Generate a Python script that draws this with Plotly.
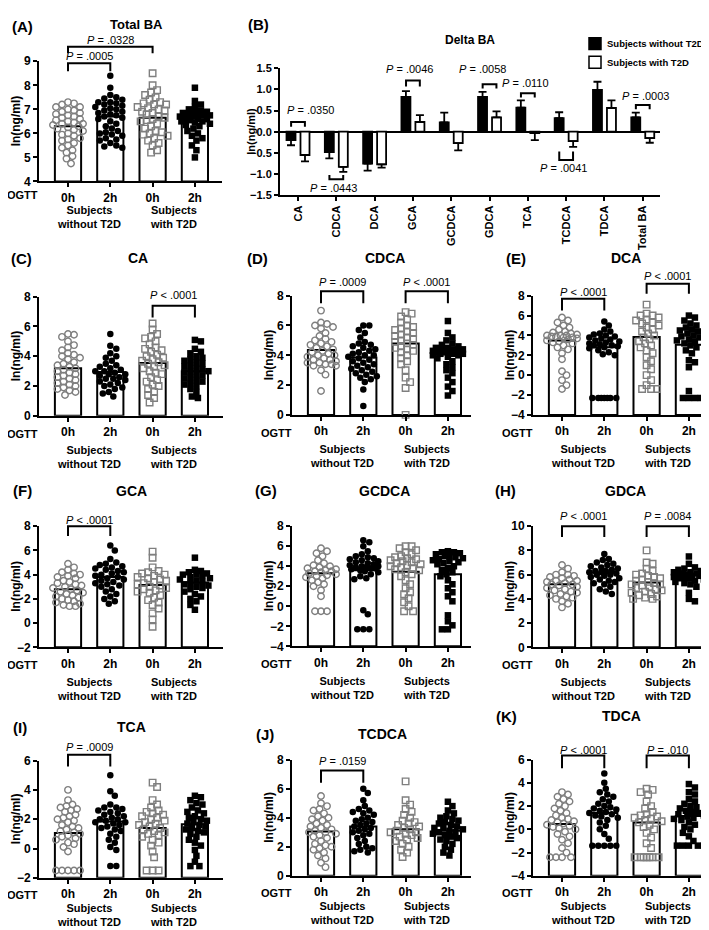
import plotly.graph_objects as go

W, H = 709, 930
FONT = 'Liberation Sans, Arial, sans-serif'
GRAY = '#7f7f7f'

tick_text = ['0h', '2h', '0h', '2h']

# ---- (A) Total BA: 0h / 2h without T2D, 0h / 2h with T2D ----
tba_vals = [
    [7.3, 7.25, 7.2, 7.1, 7.1, 7.0, 6.95, 6.9, 6.85, 6.8, 6.75, 6.7, 6.65, 6.6, 6.55, 6.5, 6.45, 6.4, 6.4, 6.35,
     6.3, 6.25, 6.2, 6.15, 6.1, 6.0, 5.95, 5.9, 5.8, 5.75, 5.7, 5.6, 5.5, 5.4, 5.3, 5.2, 5.05, 4.95, 4.75],
    [8.4, 7.9, 7.6, 7.5, 7.45, 7.4, 7.3, 7.3, 7.25, 7.2, 7.15, 7.1, 7.05, 7.0, 6.95, 6.9, 6.85, 6.8, 6.75, 6.7,
     6.65, 6.6, 6.5, 6.4, 6.3, 6.2, 6.1, 6.05, 6.0, 5.95, 5.9, 5.8, 5.75, 5.7, 5.6, 5.5, 5.45, 5.4],
    [8.5, 8.0, 7.8, 7.7, 7.6, 7.5, 7.4, 7.3, 7.25, 7.2, 7.2, 7.1, 7.05, 7.0, 6.95, 6.9, 6.85, 6.8, 6.7, 6.65,
     6.6, 6.55, 6.5, 6.4, 6.3, 6.2, 6.1, 6.05, 6.0, 5.95, 5.9, 5.8, 5.7, 5.6, 5.5, 5.3, 5.2],
    [7.9, 7.35, 7.2, 7.1, 7.0, 6.95, 6.9, 6.85, 6.85, 6.8, 6.8, 6.75, 6.75, 6.7, 6.7, 6.65, 6.6, 6.6, 6.55, 6.5,
     6.5, 6.45, 6.4, 6.35, 6.3, 6.2, 6.1, 6.0, 5.9, 5.8, 5.7, 5.5, 5.3, 5.0],
]
tba_means = [6.3, 6.7, 6.65, 6.5]

# ---- (B) Delta BA ----
delta_cats = ['CA', 'CDCA', 'DCA', 'GCA', 'GCDCA', 'GDCA', 'TCA', 'TCDCA', 'TDCA', 'Total BA']
delta_without = [-0.20, -0.48, -0.75, 0.82, 0.22, 0.82, 0.57, 0.32, 0.99, 0.34]
delta_without_sem = [0.12, 0.15, 0.17, 0.14, 0.23, 0.12, 0.17, 0.14, 0.19, 0.11]
delta_with = [-0.55, -0.83, -0.77, 0.23, -0.27, 0.34, -0.03, -0.22, 0.56, -0.15]
delta_with_sem = [0.15, 0.12, 0.08, 0.16, 0.17, 0.14, 0.17, 0.14, 0.18, 0.11]

# ---- (C) CA ----
ca_vals = [
    [5.5, 5.45, 5.3, 5.0, 4.75, 4.6, 4.4, 4.2, 4.1, 4.0, 3.9, 3.8, 3.6, 3.5, 3.4, 3.3, 3.2, 3.1, 3.0, 2.9,
     2.8, 2.7, 2.6, 2.5, 2.4, 2.3, 2.2, 2.1, 2.0, 1.9, 1.8, 1.7, 1.6, 1.4],
    [5.5, 4.7, 4.5, 4.2, 4.0, 3.9, 3.7, 3.5, 3.4, 3.3, 3.2, 3.1, 3.0, 3.0, 2.9, 2.8, 2.8, 2.7, 2.6, 2.5,
     2.5, 2.4, 2.3, 2.2, 2.1, 2.0, 1.9, 1.8, 1.6, 1.5, 1.3],
    [6.2, 5.8, 5.5, 5.3, 5.2, 5.0, 4.8, 4.6, 4.5, 4.4, 4.3, 4.1, 4.0, 3.9, 3.8, 3.7, 3.6, 3.5, 3.4, 3.3,
     3.2, 3.0, 2.9, 2.8, 2.6, 2.4, 2.3, 2.1, 2.0, 1.8, 1.6, 1.4, 1.2, 0.9],
    [5.1, 5.0, 4.5, 4.3, 4.2, 4.0, 3.9, 3.8, 3.7, 3.6, 3.5, 3.4, 3.3, 3.2, 3.1, 3.0, 3.0, 2.9, 2.8, 2.7,
     2.6, 2.5, 2.4, 2.3, 2.2, 2.1, 2.0, 1.8, 1.6, 1.3, 1.2],
]
ca_means = [3.2, 2.95, 3.55, 3.0]

# ---- (D) CDCA ----
cdca_vals = [
    [7.0, 6.2, 6.1, 6.0, 5.9, 5.8, 5.5, 5.3, 5.1, 5.0, 4.9, 4.8, 4.7, 4.6, 4.5, 4.4, 4.3, 4.2, 4.1, 4.0,
     4.0, 3.9, 3.8, 3.7, 3.7, 3.6, 3.5, 3.5, 3.4, 3.4, 3.3, 3.3, 3.0, 2.7, 1.6],
    [6.0, 6.0, 5.7, 5.5, 5.2, 4.9, 4.8, 4.7, 4.6, 4.5, 4.4, 4.3, 4.2, 4.1, 4.0, 4.0, 3.9, 3.8, 3.7, 3.6,
     3.5, 3.4, 3.3, 3.2, 3.1, 3.0, 2.9, 2.8, 2.7, 2.6, 2.5, 2.4, 2.2, 1.7, 0.6],
    [6.9, 6.8, 6.6, 6.4, 6.2, 6.0, 5.9, 5.8, 5.7, 5.6, 5.5, 5.4, 5.3, 5.2, 5.1, 5.0, 4.9, 4.8, 4.7, 4.6,
     4.5, 4.4, 4.3, 4.2, 4.0, 3.8, 3.6, 3.4, 3.0, 2.5, 2.2, 1.8, 0.0],
    [6.3, 5.5, 5.2, 5.0, 4.8, 4.7, 4.6, 4.5, 4.5, 4.4, 4.4, 4.3, 4.3, 4.3, 4.2, 4.2, 4.2, 4.1, 4.1, 4.1,
     4.0, 4.0, 3.9, 3.8, 3.6, 3.4, 3.2, 3.0, 2.8, 2.5, 2.2, 1.9, 1.6, 1.3],
]
cdca_means = [4.35, 3.85, 4.8, 4.2]

# ---- (E) DCA ----
dca_vals = [
    [5.8, 5.5, 5.3, 5.0, 4.8, 4.6, 4.4, 4.3, 4.2, 4.1, 4.0, 4.0, 4.0, 3.9, 3.9, 3.8, 3.8, 3.7, 3.6, 3.5,
     3.4, 3.3, 3.2, 3.0, 2.8, 2.6, 2.2, 1.6, 0.4, 0.0, -0.5, -1.0, -1.4],
    [5.4, 5.0, 4.6, 4.4, 4.2, 4.1, 4.0, 3.9, 3.8, 3.7, 3.6, 3.5, 3.4, 3.3, 3.2, 3.1, 3.0, 3.0, 2.9, 2.8,
     2.7, 2.5, 2.3, 2.1, 2.0, -2.3, -2.3, -2.3, -2.3, -2.3, -2.3, -2.3],
    [7.1, 6.2, 6.0, 6.0, 5.8, 5.6, 5.5, 5.3, 5.2, 5.0, 4.8, 4.6, 4.4, 4.2, 4.0, 3.8, 3.6, 3.4, 3.2, 3.0,
     2.8, 2.5, 2.2, 1.8, 1.4, 1.0, 0.6, 0.0, -0.5, -1.0, -1.4, -1.4, -1.4],
    [6.0, 5.8, 5.5, 5.2, 5.0, 4.8, 4.6, 4.5, 4.4, 4.2, 4.0, 3.9, 3.8, 3.6, 3.5, 3.4, 3.2, 3.0, 2.8, 2.5,
     2.2, 1.5, 1.3, 0.8, -1.6, -2.3, -2.3, -2.3, -2.3],
]
dca_means = [3.5, 2.8, 3.85, 3.05]

# ---- (F) GCA ----
gca_vals = [
    [4.9, 4.6, 4.4, 4.2, 4.1, 4.0, 3.9, 3.8, 3.7, 3.5, 3.4, 3.3, 3.2, 3.1, 3.0, 2.9, 2.8, 2.7, 2.6, 2.5,
     2.4, 2.3, 2.2, 2.1, 2.0, 1.9, 1.8, 1.7, 1.6, 1.5, 1.4, 1.4],
    [6.4, 6.0, 5.3, 5.0, 4.9, 4.8, 4.7, 4.6, 4.5, 4.4, 4.3, 4.2, 4.1, 4.0, 3.9, 3.8, 3.7, 3.6, 3.5, 3.4,
     3.3, 3.2, 3.1, 3.0, 2.8, 2.6, 2.4, 2.2, 2.0, 1.8, 1.6],
    [5.9, 5.4, 4.6, 4.3, 4.2, 4.1, 4.0, 3.9, 3.8, 3.7, 3.6, 3.5, 3.4, 3.3, 3.2, 3.1, 3.0, 2.9, 2.8, 2.7,
     2.6, 2.5, 2.3, 2.1, 1.9, 1.7, 1.5, 1.2, 0.8, 0.3, -0.3],
    [5.4, 4.4, 4.3, 4.2, 4.1, 4.0, 4.0, 3.9, 3.8, 3.7, 3.6, 3.5, 3.4, 3.3, 3.2, 3.1, 3.0, 2.9, 2.8, 2.6,
     2.4, 2.2, 2.0, 1.8, 1.5, 1.1],
]
gca_means = [2.8, 3.8, 3.15, 3.35]

# ---- (G) GCDCA ----
gcdca_vals = [
    [5.8, 5.5, 5.3, 5.0, 4.6, 4.3, 4.1, 4.0, 3.9, 3.8, 3.7, 3.6, 3.5, 3.5, 3.4, 3.3, 3.2, 3.1, 3.0, 2.9,
     2.8, 2.6, 2.4, 2.2, 2.0, 1.6, 1.0, -0.5, -0.5, -0.5],
    [6.6, 6.4, 6.0, 5.5, 5.2, 5.0, 4.9, 4.8, 4.7, 4.6, 4.5, 4.4, 4.3, 4.2, 4.1, 4.0, 4.0, 3.9, 3.9, 3.8,
     3.8, 3.7, 3.6, 3.5, 3.4, 3.2, 3.0, 2.8, 2.7, -0.4, -0.8, -2.3, -2.3, -2.3],
    [6.0, 6.0, 5.8, 5.6, 5.4, 5.2, 5.0, 4.9, 4.8, 4.7, 4.6, 4.5, 4.4, 4.3, 4.2, 4.1, 4.0, 3.9, 3.8, 3.7,
     3.6, 3.4, 3.2, 3.0, 2.6, 2.2, 1.8, 1.4, 1.2, 0.8, 0.4, 0.0, -0.5, -0.5],
    [5.5, 5.4, 5.4, 5.3, 5.2, 5.1, 5.0, 4.9, 4.8, 4.7, 4.6, 4.5, 4.4, 4.3, 4.2, 4.0, 3.8, 3.6, 3.4, 3.2,
     3.0, 2.6, 2.2, 1.8, 1.4, 1.0, 0.5, -0.9, -1.5, -1.9, -2.3, -2.3],
]
gcdca_means = [3.3, 3.6, 3.45, 3.2]

# ---- (H) GDCA ----
gdca_vals = [
    [6.8, 6.5, 6.2, 6.0, 6.0, 5.9, 5.8, 5.7, 5.6, 5.5, 5.5, 5.4, 5.3, 5.2, 5.2, 5.1, 5.0, 4.9, 4.8, 4.7,
     4.6, 4.5, 4.4, 4.3, 4.2, 4.1, 4.0, 3.8, 3.6, 3.3],
    [7.7, 7.3, 7.2, 7.0, 6.9, 6.8, 6.7, 6.6, 6.5, 6.4, 6.3, 6.3, 6.2, 6.2, 6.1, 6.0, 6.0, 5.9, 5.8, 5.7,
     5.6, 5.5, 5.4, 5.3, 5.2, 5.0, 4.8, 4.6, 4.4],
    [8.0, 7.0, 6.9, 6.5, 6.3, 6.1, 6.0, 5.9, 5.8, 5.7, 5.6, 5.5, 5.4, 5.3, 5.2, 5.2, 5.1, 5.0, 4.9, 4.8,
     4.7, 4.6, 4.5, 4.4, 4.3, 4.2, 4.1, 4.0, 4.0],
    [7.5, 6.9, 6.6, 6.5, 6.4, 6.3, 6.2, 6.2, 6.1, 6.1, 6.0, 6.0, 6.0, 5.9, 5.9, 5.8, 5.8, 5.7, 5.7, 5.6,
     5.5, 5.4, 5.3, 5.2, 5.0, 4.5, 4.0, 3.8],
]
gdca_means = [5.2, 6.15, 5.35, 5.95]

# ---- (I) TCA ----
tca_vals = [
    [4.0, 3.3, 3.0, 2.9, 2.8, 2.7, 2.6, 2.5, 2.3, 2.2, 2.1, 2.0, 1.9, 1.8, 1.6, 1.5, 1.4, 1.3, 1.2, 1.1,
     1.0, 0.9, 0.8, 0.7, 0.6, 0.4, 0.3, 0.1, -0.2, -1.5, -1.5, -1.5, -1.5, -1.5],
    [5.0, 3.9, 3.6, 3.0, 2.8, 2.8, 2.7, 2.6, 2.5, 2.4, 2.3, 2.2, 2.1, 2.0, 2.0, 1.9, 1.8, 1.8, 1.7, 1.6,
     1.5, 1.4, 1.3, 1.2, 1.0, 0.8, 0.6, 0.4, 0.1, -0.1, -1.2, -1.2],
    [4.5, 4.2, 3.3, 3.0, 2.8, 2.6, 2.5, 2.4, 2.3, 2.2, 2.1, 2.0, 1.9, 1.8, 1.7, 1.6, 1.5, 1.4, 1.3, 1.2,
     1.1, 1.0, 0.9, 0.8, 0.6, 0.4, 0.2, -0.2, -0.6, -1.5, -1.5, -1.5],
    [3.6, 3.5, 3.3, 3.1, 3.0, 2.8, 2.6, 2.5, 2.4, 2.2, 2.1, 2.0, 1.9, 1.8, 1.7, 1.6, 1.5, 1.4, 1.3, 1.2,
     1.1, 1.0, 0.8, 0.6, 0.4, 0.2, -0.1, -0.5, -0.9, -1.2, -1.2],
]
tca_means = [1.05, 1.85, 1.4, 1.65]

# ---- (J) TCDCA ----
tcdca_vals = [
    [5.5, 5.0, 4.8, 4.6, 4.5, 4.3, 4.1, 4.0, 3.9, 3.8, 3.6, 3.5, 3.4, 3.3, 3.2, 3.1, 3.0, 3.0, 2.9, 2.8,
     2.7, 2.6, 2.4, 2.2, 2.1, 2.0, 1.9, 1.8, 1.6, 1.4, 1.2, 0.9, 0.6],
    [6.0, 5.7, 5.2, 4.8, 4.6, 4.5, 4.4, 4.3, 4.2, 4.0, 3.9, 3.8, 3.7, 3.6, 3.5, 3.4, 3.3, 3.2, 3.1, 3.0,
     2.9, 2.8, 2.6, 2.4, 2.2, 2.0, 1.9, 1.8, 1.7, 1.6],
    [6.5, 5.2, 4.9, 4.6, 4.4, 4.2, 4.0, 3.8, 3.7, 3.6, 3.5, 3.4, 3.3, 3.2, 3.1, 3.0, 3.0, 2.9, 2.8, 2.7,
     2.6, 2.5, 2.4, 2.2, 2.0, 1.8, 1.6, 1.3],
    [5.1, 4.8, 4.5, 4.3, 4.1, 4.0, 3.9, 3.8, 3.7, 3.6, 3.5, 3.4, 3.3, 3.3, 3.2, 3.1, 3.0, 3.0, 2.9, 2.8,
     2.7, 2.6, 2.5, 2.4, 2.2, 2.0, 1.8, 1.6, 1.4],
]
tcdca_means = [3.05, 3.4, 3.2, 3.1]

# ---- (K) TDCA ----
tdca_vals = [
    [3.2, 3.0, 2.8, 2.6, 2.4, 2.2, 2.0, 1.8, 1.6, 1.4, 1.2, 1.0, 0.9, 0.8, 0.7, 0.6, 0.5, 0.4, 0.3, 0.2,
     0.1, 0.0, -0.2, -0.4, -0.6, -0.9, -1.2, -1.6, -2.0, -2.4, -2.4, -2.4, -2.4],
    [4.8, 4.0, 3.5, 3.2, 3.0, 2.8, 2.6, 2.4, 2.2, 2.0, 1.9, 1.8, 1.7, 1.6, 1.5, 1.4, 1.3, 1.2, 1.1, 1.0,
     0.8, 0.6, 0.3, 0.0, -0.4, -0.8, -1.4, -1.4, -1.4, -1.4, -1.4],
    [3.5, 3.4, 3.2, 3.0, 2.4, 2.0, 1.8, 1.5, 1.3, 1.2, 1.1, 1.0, 0.9, 0.8, 0.7, 0.6, 0.4, 0.2, 0.0, -0.3,
     -0.7, -1.2, -1.6, -2.4, -2.4, -2.4, -2.4, -2.4, -2.4, -2.4],
    [3.9, 3.6, 3.2, 3.0, 2.6, 2.4, 2.2, 2.0, 1.9, 1.8, 1.6, 1.5, 1.4, 1.3, 1.2, 1.1, 1.0, 0.9, 0.8, 0.6,
     0.4, 0.2, 0.0, -0.3, -0.6, -1.0, -1.4, -1.4, -1.4, -1.4, -1.4],
]
tdca_means = [0.45, 1.4, 0.6, 1.15]

# P-value brackets: (bar from, bar to, text value, bracket top, leg end, label)
brackets = {
    'A': [(0, 2, 9.88, 9.61, 9.33, '= .0328'), (0, 1, 9.2, 8.92, 8.59, '= .0005')],
    'C': [(2, 3, 8.1, 7.4, 6.6, '< .0001')],
    'D': [(0, 1, 8.9, 8.3, 7.5, '= .0009'), (2, 3, 8.9, 8.3, 7.5, '< .0001')],
    'E': [(0, 1, 8.4, 7.7, 6.5, '< .0001'), (2, 3, 10.0, 9.2, 8.2, '< .0001')],
    'F': [(0, 1, 8.5, 8.0, 7.2, '< .0001')],
    'H': [(0, 1, 10.8, 10.0, 9.1, '< .0001'), (2, 3, 10.8, 10.0, 9.1, '= .0084')],
    'I': [(0, 1, 6.9, 6.4, 5.6, '= .0009')],
    'J': [(0, 1, 7.9, 7.25, 6.4, '= .0159')],
    'K': [(0, 1, 6.8, 6.35, 5.25, '< .0001'), (2, 3, 6.8, 6.35, 5.25, '= .010')],
}
# delta panel brackets: (category, text dx, text value, bracket y, leg y, label)
delta_brackets = [
    (0, 0.33, 0.51, 0.23, 0.12, '= .0350'),
    (1, -0.08, -1.33, -1.12, -1.02, '= .0443'),
    (3, -0.10, 1.47, 1.21, 1.07, '= .0046'),
    (5, -0.18, 1.47, 1.12, 1.02, '= .0058'),
    (6, -0.05, 1.14, 0.91, 0.81, '= .0110'),
    (7, -0.08, -0.86, -0.67, -0.47, '= .0041'),
    (9, 0.08, 0.84, 0.63, 0.53, '= .0003'),
]

# layout geometry in pixels: x0, x1, ytop, ybot, ymin, ymax, dtick
geom = {
    'A': (31, 214, 47, 169, 4, 9, 1),
    'B': (272, 652, 54, 183, -1.5, 1.5, 0.5),
    'C': (31, 215, 286, 407, 0, 8, 2),
    'D': (284, 463, 285, 406, 0, 8, 2),
    'E': (525, 708, 285, 406, -4, 8, 2),
    'F': (31, 215, 519, 642, -2, 8, 2),
    'G': (284, 463, 519, 641, -4, 8, 2),
    'H': (525, 708, 519, 642, 0, 10, 2),
    'I': (31, 215, 757, 876, -2, 6, 2),
    'J': (284, 463, 756, 874, 0, 8, 2),
    'K': (525, 708, 756, 874, -4, 6, 2),
}
# panel title text, letter (x, y), title (x, y), title size
heads = {
    'A': ('Total BA', 14, 12, 128, 10, 13), 'B': ('Delta BA', 250, 10, 462, 25, 12),
    'C': ('CA', 13, 247, 130, 247, 14), 'D': ('CDCA', 249, 247, 377, 247, 14),
    'E': ('DCA', 508, 247, 618, 247, 14), 'F': ('GCA', 14, 483, 123, 483, 14),
    'G': ('GCDCA', 258, 483, 377, 483, 14), 'H': ('GDCA', 497, 483, 617, 483, 14),
    'I': ('TCA', 12, 723, 123, 723, 14), 'J': ('TCDCA', 257, 730, 375, 730, 14),
    'K': ('TDCA', 498, 712, 613, 712, 14),
}
# offsets below the x axis for the OGTT row and the two-line group labels
row_dy = {'A': (14, 36), 'C': (18, 42), 'D': (18, 42), 'E': (18, 42),
          'F': (18, 42), 'G': (18, 42), 'H': (18, 42),
          'I': (17, 38), 'J': (17, 38), 'K': (17, 38)}

small = [
    ('A', tba_vals, tba_means), ('C', ca_vals, ca_means), ('D', cdca_vals, cdca_means),
    ('E', dca_vals, dca_means), ('F', gca_vals, gca_means), ('G', gcdca_vals, gcdca_means),
    ('H', gdca_vals, gdca_means), ('I', tca_vals, tca_means), ('J', tcdca_vals, tcdca_means),
    ('K', tdca_vals, tdca_means),
]
axis_no = {k: i + 1 for i, k in enumerate('ABCDEFGHIJK')}

BAR_DX = 42.3   # pixels between bar centres
FIRST = 29      # pixels from y axis to first bar centre
MARK = 6.5

styles = [
    dict(symbol='circle-open', color=GRAY, size=MARK, line=dict(width=1.4, color=GRAY)),
    dict(symbol='circle', color='black', size=MARK, line=dict(width=0)),
    dict(symbol='square-open', color=GRAY, size=MARK, line=dict(width=1.4, color=GRAY)),
    dict(symbol='square', color='black', size=MARK, line=dict(width=0)),
]


def px(x):
    return x / W


def py(y):
    return 1 - y / H


def val_y(g, v):
    x0, x1, yt, yb, lo, hi, dt = g
    return yb - (v - lo) / (hi - lo) * (yb - yt)


def swarm(vals, ppu, d=6.0, half=16.0, step=1.5):
    cands = [0.0]
    k = 1
    while k * step <= half:
        cands += [k * step, -k * step]
        k += 1
    placed = []
    offs = [0.0] * len(vals)
    for i in sorted(range(len(vals)), key=lambda n: -vals[n]):
        y = vals[i] * ppu
        best, best_gap = 0.0, -1.0
        for c in cands:
            gap = min([((c - a) ** 2 + (y - b) ** 2) ** 0.5 for a, b in placed], default=1e9)
            if gap >= d:
                best = c
                break
            if gap > best_gap:
                best, best_gap = c, gap
        placed.append((best, y))
        offs[i] = best
    return offs


fig = go.Figure()
layout = dict(width=W, height=H, margin=dict(l=0, r=0, t=0, b=0), showlegend=False,
              plot_bgcolor='white', paper_bgcolor='white', barmode='overlay',
              font=dict(family=FONT, color='black'))
annots = []
shapes = []
bold = dict(family=FONT, size=12, color='black', weight='bold')


def text(x, y, s, size=12, weight='bold', angle=0, xanchor='center'):
    annots.append(dict(x=px(x), y=py(y), xref='paper', yref='paper', text=s, showarrow=False,
                       xanchor=xanchor, yanchor='middle', textangle=angle,
                       font=dict(family=FONT, size=size, color='black', weight=weight)))


def line(path):
    shapes.append(dict(type='path', path=path, xref='paper', yref='paper',
                       line=dict(color='black', width=2)))


for key, vals, means in small:
    g = geom[key]
    n = axis_no[key]
    x0, x1, yt, yb, lo, hi, dt = g
    xs = '' if n == 1 else str(n)
    xr = [-FIRST / BAR_DX, (x1 - x0 - FIRST) / BAR_DX]
    layout['xaxis' + xs] = dict(domain=[px(x0), px(x1)], range=xr, anchor='y' + xs,
                                tickvals=[0, 1, 2, 3], ticktext=tick_text, tickfont=bold,
                                showline=True, linecolor='black', linewidth=2, ticks='outside',
                                ticklen=4, tickwidth=1.5, tickcolor='black', showgrid=False,
                                zeroline=False, fixedrange=True)
    layout['yaxis' + xs] = dict(domain=[py(yb), py(yt)], range=[lo, hi], anchor='x' + xs,
                                tick0=lo, dtick=dt, tickfont=bold, showline=True, linecolor='black',
                                linewidth=2, ticks='outside', ticklen=4, tickwidth=1.5,
                                tickcolor='black', showgrid=False, zeroline=False, fixedrange=True)
    fig.add_trace(go.Bar(x=[0, 1, 2, 3], y=[m - lo for m in means], base=lo, width=0.62,
                         marker=dict(color='white', line=dict(color='black', width=2)),
                         xaxis='x' + xs, yaxis='y' + xs))
    ppu = (yb - yt) / (hi - lo)
    for gi, gv in enumerate(vals):
        offs = swarm(gv, ppu)
        fig.add_trace(go.Scatter(x=[gi + o / BAR_DX for o in offs], y=gv, mode='markers',
                                 marker=styles[gi], cliponaxis=False,
                                 xaxis='x' + xs, yaxis='y' + xs))

    # brackets
    for i, j, tv, top, leg, lab in brackets.get(key, []):
        xa = x0 + FIRST + i * BAR_DX
        xb = x0 + FIRST + j * BAR_DX
        ya, yt2 = val_y(g, leg), val_y(g, top)
        line(f'M {px(xa)},{py(ya)} L {px(xa)},{py(yt2)} L {px(xb)},{py(yt2)} L {px(xb)},{py(ya)}')
        text((xa + xb) / 2, val_y(g, tv), '<i>P</i> ' + lab, size=11, weight='normal')

    # axis labels
    d1, d2 = row_dy[key]
    text(x0 - 16, yb + d1, 'OGTT', size=11)
    text(x0 + FIRST + 0.5 * BAR_DX, yb + d2, 'Subjects<br>without T2D', size=11)
    text(x0 + FIRST + 2.5 * BAR_DX, yb + d2, 'Subjects<br>with T2D', size=11)
    text(x0 - 23, (yt + yb) / 2, 'ln(ng/ml)', size=12, angle=-90)

# ---- panel B: grouped bars ----
g = geom['B']
x0, x1, yt, yb, lo, hi, dt = g
bxr = [-0.47, 9.45]
layout['xaxis2'] = dict(domain=[px(x0), px(x1)], range=bxr, anchor='y2', type='category',
                        categoryarray=delta_cats, tickangle=-90,
                        tickfont=dict(family=FONT, size=11, color='black', weight='bold'),
                        showline=True, linecolor='black', linewidth=2, ticks='outside', ticklen=4,
                        tickwidth=1.5, tickcolor='black', showgrid=False, zeroline=False,
                        fixedrange=True)
layout['yaxis2'] = dict(domain=[py(yb), py(yt)], range=[lo, hi], anchor='x2', tick0=lo, dtick=dt,
                        tickformat='.1f',
                        tickfont=dict(family=FONT, size=11, color='black', weight='bold'),
                        showline=True, linecolor='black', linewidth=2, ticks='outside', ticklen=4,
                        tickwidth=1.5, tickcolor='black', showgrid=False, zeroline=True,
                        zerolinecolor='black', zerolinewidth=2, fixedrange=True)
for vals, sems, off, fill in [(delta_without, delta_without_sem, -0.30, 'black'),
                              (delta_with, delta_with_sem, 0.065, 'white')]:
    fig.add_trace(go.Bar(
        x=delta_cats, y=vals, width=0.235, offset=off,
        marker=dict(color=fill, line=dict(color='black', width=1.8)),
        error_y=dict(type='data', symmetric=False,
                     array=[s if v > 0 else 0 for v, s in zip(vals, sems)],
                     arrayminus=[s if v < 0 else 0 for v, s in zip(vals, sems)],
                     color='black', thickness=1.8, width=4),
        xaxis='x2', yaxis='y2'))

bppx = (x1 - x0) / (bxr[1] - bxr[0])


def bx(c):
    return x0 + (c - bxr[0]) * bppx


for c, dx, tv, yb_, yl, lab in delta_brackets:
    xa, xb = bx(c - 0.18), bx(c + 0.18)
    ya, yb2 = val_y(g, yl), val_y(g, yb_)
    line(f'M {px(xa)},{py(ya)} L {px(xa)},{py(yb2)} L {px(xb)},{py(yb2)} L {px(xb)},{py(ya)}')
    text(bx(c + dx), val_y(g, tv), '<i>P</i> ' + lab, size=11, weight='normal')

text(x0 - 29, (yt + yb) / 2, 'ln(ng/ml)', size=11, angle=-90)

# legend for panel B
for yy, fill, lab in [(29, 'black', 'Subjects without T2D'), (48, 'white', 'Subjects with T2D')]:
    shapes.append(dict(type='rect', xref='paper', yref='paper', x0=px(581), x1=px(593),
                       y0=py(yy + 6), y1=py(yy - 6), fillcolor=fill,
                       line=dict(color='black', width=1.5)))
    text(597, yy, lab, size=9.5, xanchor='left')

# panel letters and titles
for key, (title, lx, ly, tx, ty, tsize) in heads.items():
    text(lx, ly, f'({key})', size=15)
    text(tx, ty, title, size=tsize)

layout['annotations'] = annots
layout['shapes'] = shapes
fig.update_layout(**layout)
fig.write_html('out.html')
